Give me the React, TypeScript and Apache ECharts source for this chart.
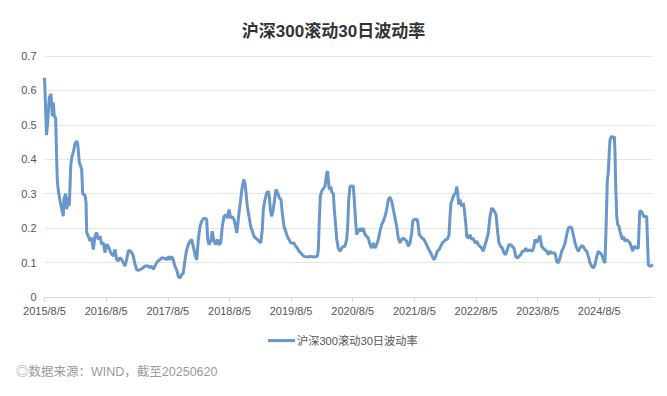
import React, { useEffect, useRef } from 'react';
import * as echarts from 'echarts';

// x positions as decimal years (2015/8/5 ≈ 2015.5945)
const years: number[] = [
  2015.595, 2015.627, 2015.643, 2015.672, 2015.700, 2015.721, 2015.737, 2015.753, 2015.776, 2015.786,
  2015.802, 2015.818, 2015.846, 2015.874, 2015.899, 2015.911, 2015.938, 2015.955, 2015.981, 2015.997,
  2016.020, 2016.036, 2016.062, 2016.089, 2016.117, 2016.133, 2016.159, 2016.182, 2016.198, 2016.214,
  2016.252, 2016.268, 2016.279, 2016.305, 2016.333, 2016.360, 2016.386, 2016.414, 2016.441, 2016.467,
  2016.495, 2016.522, 2016.548, 2016.576, 2016.603, 2016.629, 2016.657, 2016.685, 2016.711, 2016.738,
  2016.766, 2016.792, 2016.819, 2016.847, 2016.873, 2016.900, 2016.928, 2016.954, 2016.982, 2017.009,
  2017.035, 2017.063, 2017.090, 2017.116, 2017.171, 2017.225, 2017.278, 2017.306, 2017.334, 2017.360,
  2017.415, 2017.441, 2017.468, 2017.496, 2017.549, 2017.577, 2017.603, 2017.630, 2017.658, 2017.684,
  2017.711, 2017.739, 2017.765, 2017.793, 2017.820, 2017.846, 2017.874, 2017.901, 2017.927, 2017.955,
  2017.982, 2018.008, 2018.036, 2018.064, 2018.090, 2018.117, 2018.145, 2018.171, 2018.198, 2018.226,
  2018.242, 2018.263, 2018.291, 2018.317, 2018.344, 2018.372, 2018.398, 2018.425, 2018.453, 2018.479,
  2018.506, 2018.534, 2018.560, 2018.588, 2018.615, 2018.641, 2018.669, 2018.696, 2018.713, 2018.729,
  2018.750, 2018.777, 2018.803, 2018.826, 2018.847, 2018.864, 2018.885, 2018.912, 2018.940, 2018.966,
  2018.993, 2019.021, 2019.047, 2019.074, 2019.102, 2019.128, 2019.144, 2019.172, 2019.199, 2019.225,
  2019.242, 2019.258, 2019.280, 2019.306, 2019.334, 2019.350, 2019.378, 2019.404, 2019.431, 2019.452,
  2019.480, 2019.507, 2019.534, 2019.561, 2019.589, 2019.642, 2019.670, 2019.696, 2019.723, 2019.751,
  2019.777, 2019.804, 2019.858, 2019.913, 2019.967, 2020.020, 2020.037, 2020.053, 2020.069, 2020.091,
  2020.108, 2020.145, 2020.173, 2020.189, 2020.199, 2020.215, 2020.237, 2020.259, 2020.280, 2020.296,
  2020.319, 2020.335, 2020.361, 2020.388, 2020.416, 2020.442, 2020.469, 2020.497, 2020.513, 2020.530,
  2020.551, 2020.578, 2020.604, 2020.620, 2020.643, 2020.659, 2020.685, 2020.713, 2020.740, 2020.766,
  2020.794, 2020.821, 2020.847, 2020.875, 2020.903, 2020.929, 2020.956, 2020.984, 2021.010, 2021.037,
  2021.065, 2021.091, 2021.118, 2021.146, 2021.172, 2021.199, 2021.227, 2021.253, 2021.281, 2021.308,
  2021.334, 2021.362, 2021.389, 2021.415, 2021.443, 2021.470, 2021.496, 2021.524, 2021.552, 2021.568,
  2021.589, 2021.642, 2021.659, 2021.675, 2021.698, 2021.723, 2021.751, 2021.779, 2021.805, 2021.832,
  2021.860, 2021.886, 2021.913, 2021.941, 2021.967, 2021.994, 2022.022, 2022.048, 2022.075, 2022.103,
  2022.129, 2022.157, 2022.173, 2022.189, 2022.210, 2022.238, 2022.265, 2022.282, 2022.298, 2022.314,
  2022.335, 2022.363, 2022.389, 2022.405, 2022.428, 2022.444, 2022.470, 2022.497, 2022.525, 2022.551,
  2022.578, 2022.606, 2022.632, 2022.659, 2022.687, 2022.713, 2022.741, 2022.768, 2022.794, 2022.822,
  2022.849, 2022.875, 2022.919, 2022.935, 2022.947, 2022.968, 2022.995, 2023.021, 2023.049, 2023.076,
  2023.102, 2023.130, 2023.157, 2023.183, 2023.211, 2023.239, 2023.265, 2023.292, 2023.320, 2023.346,
  2023.373, 2023.401, 2023.427, 2023.454, 2023.508, 2023.535, 2023.552, 2023.579, 2023.605, 2023.633,
  2023.660, 2023.686, 2023.714, 2023.742, 2023.768, 2023.795, 2023.823, 2023.876, 2023.904, 2023.930,
  2023.957, 2023.985, 2024.011, 2024.039, 2024.066, 2024.092, 2024.120, 2024.147, 2024.173, 2024.201,
  2024.229, 2024.255, 2024.282, 2024.310, 2024.336, 2024.363, 2024.391, 2024.417, 2024.444, 2024.472,
  2024.498, 2024.525, 2024.553, 2024.579, 2024.606, 2024.634, 2024.660, 2024.687, 2024.704, 2024.725,
  2024.741, 2024.757, 2024.769, 2024.796, 2024.822, 2024.839, 2024.850, 2024.861, 2024.878, 2024.894,
  2024.915, 2024.931, 2024.947, 2024.968, 2024.985, 2025.012, 2025.040, 2025.066, 2025.093, 2025.121,
  2025.137, 2025.158, 2025.202, 2025.228, 2025.239, 2025.251, 2025.272, 2025.293, 2025.316, 2025.364,
  2025.380, 2025.390, 2025.418, 2025.445, 2025.466,
];

const volatility: number[] = [
  0.637, 0.470, 0.500, 0.580, 0.590, 0.525, 0.565, 0.525, 0.520, 0.440,
  0.340, 0.310, 0.280, 0.255, 0.235, 0.285, 0.300, 0.255, 0.290, 0.265,
  0.380, 0.405, 0.420, 0.445, 0.453, 0.445, 0.390, 0.380, 0.370, 0.300,
  0.295, 0.275, 0.187, 0.177, 0.163, 0.172, 0.138, 0.177, 0.187, 0.167,
  0.177, 0.153, 0.158, 0.129, 0.153, 0.148, 0.134, 0.124, 0.119, 0.138,
  0.109, 0.105, 0.114, 0.109, 0.100, 0.090, 0.109, 0.134, 0.134, 0.129,
  0.119, 0.095, 0.080, 0.077, 0.082, 0.090, 0.090, 0.085, 0.090, 0.080,
  0.100, 0.105, 0.109, 0.114, 0.112, 0.108, 0.118, 0.108, 0.118, 0.108,
  0.089, 0.079, 0.060, 0.055, 0.065, 0.070, 0.108, 0.137, 0.152, 0.162,
  0.167, 0.147, 0.123, 0.108, 0.167, 0.205, 0.220, 0.227, 0.229, 0.225,
  0.167, 0.152, 0.162, 0.191, 0.162, 0.152, 0.167, 0.152, 0.157, 0.205,
  0.234, 0.239, 0.229, 0.254, 0.229, 0.234, 0.225, 0.205, 0.186, 0.210,
  0.244, 0.283, 0.321, 0.341, 0.331, 0.302, 0.263, 0.234, 0.205, 0.191,
  0.176, 0.171, 0.167, 0.162, 0.157, 0.196, 0.254, 0.283, 0.302, 0.307,
  0.292, 0.254, 0.234, 0.254, 0.292, 0.312, 0.302, 0.288, 0.283, 0.244,
  0.205, 0.191, 0.176, 0.167, 0.157, 0.157, 0.147, 0.142, 0.133, 0.128,
  0.123, 0.118, 0.116, 0.118, 0.116, 0.118, 0.137, 0.225, 0.292, 0.307,
  0.312, 0.321, 0.360, 0.365, 0.341, 0.312, 0.321, 0.302, 0.302, 0.254,
  0.205, 0.167, 0.142, 0.133, 0.142, 0.147, 0.147, 0.167, 0.205, 0.283,
  0.321, 0.323, 0.321, 0.283, 0.215, 0.181, 0.191, 0.200, 0.191, 0.200,
  0.181, 0.176, 0.171, 0.152, 0.142, 0.157, 0.142, 0.152, 0.167, 0.191,
  0.210, 0.220, 0.234, 0.254, 0.283, 0.290, 0.278, 0.254, 0.229, 0.205,
  0.171, 0.157, 0.167, 0.171, 0.167, 0.162, 0.147, 0.157, 0.186, 0.220,
  0.225, 0.225, 0.205, 0.181, 0.176, 0.171, 0.167, 0.157, 0.147, 0.137,
  0.128, 0.118, 0.108, 0.118, 0.133, 0.137, 0.147, 0.157, 0.162, 0.167,
  0.167, 0.181, 0.234, 0.273, 0.283, 0.297, 0.302, 0.321, 0.302, 0.268,
  0.283, 0.263, 0.273, 0.254, 0.215, 0.176, 0.171, 0.181, 0.167, 0.171,
  0.157, 0.162, 0.152, 0.147, 0.142, 0.133, 0.152, 0.167, 0.186, 0.234,
  0.258, 0.254, 0.240, 0.210, 0.186, 0.157, 0.147, 0.142, 0.128, 0.123,
  0.137, 0.152, 0.152, 0.147, 0.142, 0.118, 0.113, 0.118, 0.123, 0.133,
  0.133, 0.142, 0.133, 0.137, 0.133, 0.147, 0.167, 0.157, 0.167, 0.178,
  0.147, 0.142, 0.137, 0.133, 0.123, 0.133, 0.128, 0.128, 0.103, 0.099,
  0.113, 0.133, 0.142, 0.157, 0.181, 0.200, 0.203, 0.200, 0.181, 0.157,
  0.142, 0.133, 0.142, 0.149, 0.147, 0.137, 0.133, 0.118, 0.099, 0.089,
  0.084, 0.094, 0.118, 0.133, 0.128, 0.123, 0.108, 0.099, 0.196, 0.341,
  0.360, 0.423, 0.457, 0.467, 0.462, 0.467, 0.418, 0.321, 0.234, 0.210,
  0.205, 0.190, 0.181, 0.167, 0.176, 0.162, 0.167, 0.162, 0.157, 0.142,
  0.133, 0.147, 0.142, 0.142, 0.196, 0.249, 0.249, 0.244, 0.234, 0.234,
  0.147, 0.094, 0.089, 0.091, 0.094,
];

const tickYears: number[] = [
  2015.5945, 2016.5945, 2017.5945, 2018.5945, 2019.5945,
  2020.5945, 2021.5945, 2022.5945, 2023.5945, 2024.5945,
];
const tickLabels: string[] = [
  '2015/8/5', '2016/8/5', '2017/8/5', '2018/8/5', '2019/8/5',
  '2020/8/5', '2021/8/5', '2022/8/5', '2023/8/5', '2024/8/5',
];

const seriesName = '沪深300滚动30日波动率';
const titleText = '沪深300滚动30日波动率';
const sourceText = '◎数据来源：WIND，截至20250620';

const FONT = 'Helvetica, Arial, "Liberation Sans", "Noto Sans CJK SC", sans-serif';
const LINE_COLOR = '#6897cb';

export default function App() {
  const ref = useRef<HTMLDivElement>(null);

  useEffect(() => {
    document.body.style.margin = '0';
    if (!ref.current) return;
    const chart = echarts.init(ref.current, null, { renderer: 'svg' });
    chart.setOption({
      animation: false,
      backgroundColor: '#ffffff',
      textStyle: { fontFamily: FONT },
      title: {
        text: titleText,
        left: 'center',
        top: 18,
        textStyle: { fontSize: 17, fontWeight: 'bold', color: '#333333', fontFamily: FONT },
      },
      legend: {
        left: 263,
        top: 330,
        itemWidth: 27,
        itemHeight: 3,
        itemGap: 10,
        data: [{ name: seriesName, icon: 'rect' }],
        textStyle: { fontSize: 11.2, color: '#555555', fontFamily: FONT, padding: [0, 0, 0, -3] },
      },
      grid: { left: 44.5, right: 14, top: 56, bottom: 99, containLabel: false },
      xAxis: {
        type: 'value',
        min: 2015.5945,
        max: 2025.466,
        splitLine: { show: false },
        axisLine: { show: true, lineStyle: { color: '#d9d9d9', width: 1 } },
        axisTick: { show: true, customValues: tickYears, length: 5, lineStyle: { color: '#d9d9d9' } },
        axisLabel: {
          customValues: tickYears,
          color: '#555555',
          fontSize: 11,
          margin: 8,
          fontFamily: FONT,
          formatter: (v: number) => {
            const i = tickYears.findIndex((t) => Math.abs(t - v) < 1e-6);
            return i >= 0 ? tickLabels[i] : '';
          },
        },
      },
      yAxis: {
        type: 'value',
        min: 0,
        max: 0.7,
        interval: 0.1,
        axisLine: { show: false },
        axisTick: { show: false },
        splitLine: { show: true, lineStyle: { color: '#e6e6e6', width: 1 } },
        axisLabel: { color: '#555555', fontSize: 11, margin: 8, fontFamily: FONT },
      },
      series: [
        {
          name: seriesName,
          type: 'line',
          showSymbol: false,
          symbol: 'none',
          color: LINE_COLOR,
          lineStyle: { color: LINE_COLOR, width: 3 },
          data: years.map((y, i) => [y, volatility[i]]),
        },
      ],
      graphic: [
        {
          type: 'text',
          left: 16,
          top: 366,
          style: {
            text: sourceText,
            fill: '#9a9a9a',
            font: `12.5px ${FONT}`,
          },
        },
      ],
    });
    return () => chart.dispose();
  }, []);

  return <div ref={ref} style={{ width: 667, height: 396 }} />;
}
